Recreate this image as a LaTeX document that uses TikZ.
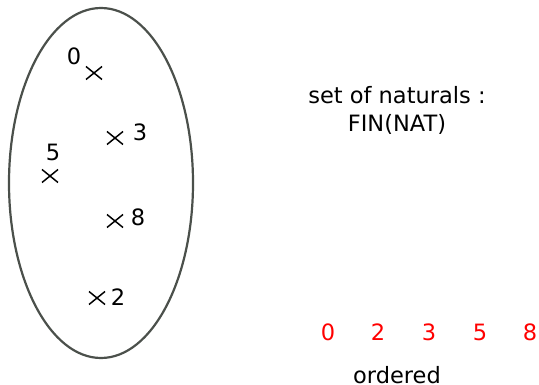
\documentclass[tikz,border=0pt]{standalone}
\usepackage{fontspec}
\setmainfont{DejaVu Sans}
\usetikzlibrary{calc}
\begin{document}
\begin{tikzpicture}[x=1pt,y=-1pt,
  lbl/.style={font=\fontsize{22.5}{27}\selectfont, inner sep=0pt},
  red lbl/.style={lbl, text=red},
  crs/.style={line width=1.5pt, black}]
\useasboundingbox (0,0) rectangle (539,385);
\draw[line width=2.2pt, draw={rgb,255:red,75;green,80;blue,75}] (101,183) ellipse [x radius=92, y radius=175];
\foreach \n/\x/\y in {c0/94/73, c3/115/138, c5/50/176, c8/115/221, c2/97/298}{
  \coordinate (\n) at (\x,\y);
  \draw[crs] ($(\n)+(-8,-6.5)$) -- ($(\n)+(8,6.5)$);
  \draw[crs] ($(\n)+(-8,6.5)$) -- ($(\n)+(8,-6.5)$);
}
\node[lbl] (l0) at (74,56) {0};
\node[lbl] (l3) at (140,132) {3};
\node[lbl] (l5) at (53,152) {5};
\node[lbl] (l8) at (138,217) {8};
\node[lbl] (l2) at (118,297) {2};
\node[lbl] (t1) at (397,95) {set of naturals :};
\node[lbl] (t2) at (397,124) {FIN(NAT)};
\node[red lbl] (r0) at (328,332) {0};
\node[red lbl] (r2) at (378,332) {2};
\node[red lbl] (r3) at (429,332) {3};
\node[red lbl] (r5) at (480,332) {5};
\node[red lbl] (r8) at (530,332) {8};
\node[lbl, anchor=base] (ord) at (397,383) {ordered};
\end{tikzpicture}
\end{document}
